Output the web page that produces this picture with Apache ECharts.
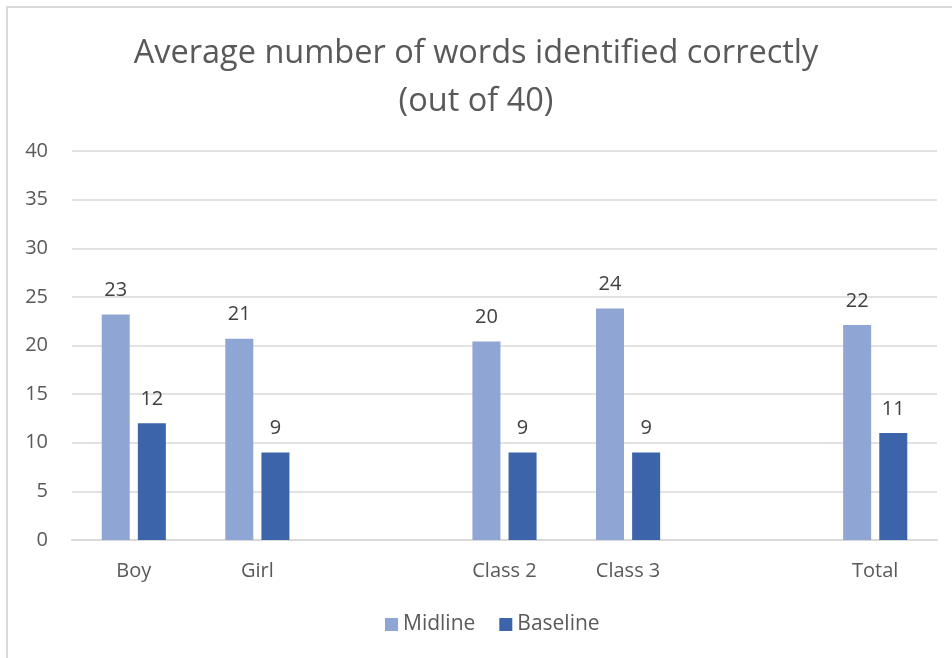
<!DOCTYPE html>
<html>
<head>
<meta charset="utf-8">
<title>Average number of words identified correctly</title>
<script src="https://cdn.jsdelivr.net/npm/echarts@6/dist/echarts.min.js"></script>
<style>
    html, body { margin: 0; padding: 0; background: #fff; }
    #chart { width: 952px; height: 658px; }
</style>
</head>
<body>
<div id="chart"></div>
<script>
// categories (blank slots keep the gaps between groups)
var categories = ['Boy', 'Girl', '', 'Class 2', 'Class 3', '', 'Total'];
var midline = [23.2, 20.7, null, 20.4, 23.8, null, 22.1];
var baseline = [12, 9, null, 9, 9, null, 11];
var yTicks = [0, 5, 10, 15, 20, 25, 30, 35, 40];

var textColor = '#595959';
var fontFamily = 'Open Sans, Noto Sans, sans-serif';

function barLabel() {
    return {
        show: true,
        position: 'top',
        distance: 14,
        color: '#404040',
        fontSize: 20,
        fontFamily: fontFamily,
        formatter: function (p) { return Math.round(p.value); }
    };
}

var chart = echarts.init(document.getElementById('chart'));
chart.setOption({
    animation: false,
    textStyle: { fontFamily: fontFamily },
    title: {
        text: 'Average number of words identified correctly\n(out of 40)',
        left: 'center',
        top: 25,
        textStyle: {
            color: textColor,
            fontSize: 32.5,
            fontWeight: 'normal',
            lineHeight: 48,
            fontFamily: fontFamily
        }
    },
    graphic: [{
        type: 'rect',
        shape: { x: 7, y: 7, width: 1000, height: 1000 },
        style: { fill: 'none', stroke: '#d9d9d9', lineWidth: 2 },
        silent: true
    }],
    legend: {
        bottom: 18,
        left: 380,
        itemWidth: 13,
        itemHeight: 13,
        itemGap: 24,
        icon: 'rect',
        textStyle: { color: textColor, fontSize: 21, fontFamily: fontFamily },
        data: ['Midline', 'Baseline']
    },
    grid: { left: 72, right: 15, top: 151, bottom: 118, containLabel: false },
    xAxis: {
        type: 'category',
        data: categories,
        axisTick: { show: false },
        axisLine: { lineStyle: { color: '#d9d9d9', width: 2 } },
        axisLabel: { color: textColor, fontSize: 20, margin: 21 }
    },
    yAxis: {
        type: 'value',
        min: yTicks[0],
        max: yTicks[yTicks.length - 1],
        interval: 5,
        axisLine: { show: false },
        axisTick: { show: false },
        axisLabel: { color: textColor, fontSize: 20, margin: 24 },
        splitLine: { lineStyle: { color: '#d9d9d9', width: 1.5 } }
    },
    series: [
        {
            name: 'Midline',
            type: 'bar',
            data: midline,
            barWidth: 28,
            barGap: '29%',
            itemStyle: { color: '#8FA5D3' },
            label: barLabel()
        },
        {
            name: 'Baseline',
            type: 'bar',
            data: baseline,
            barWidth: 28,
            itemStyle: { color: '#3B64AB' },
            label: barLabel()
        }
    ]
});
</script>
</body>
</html>
